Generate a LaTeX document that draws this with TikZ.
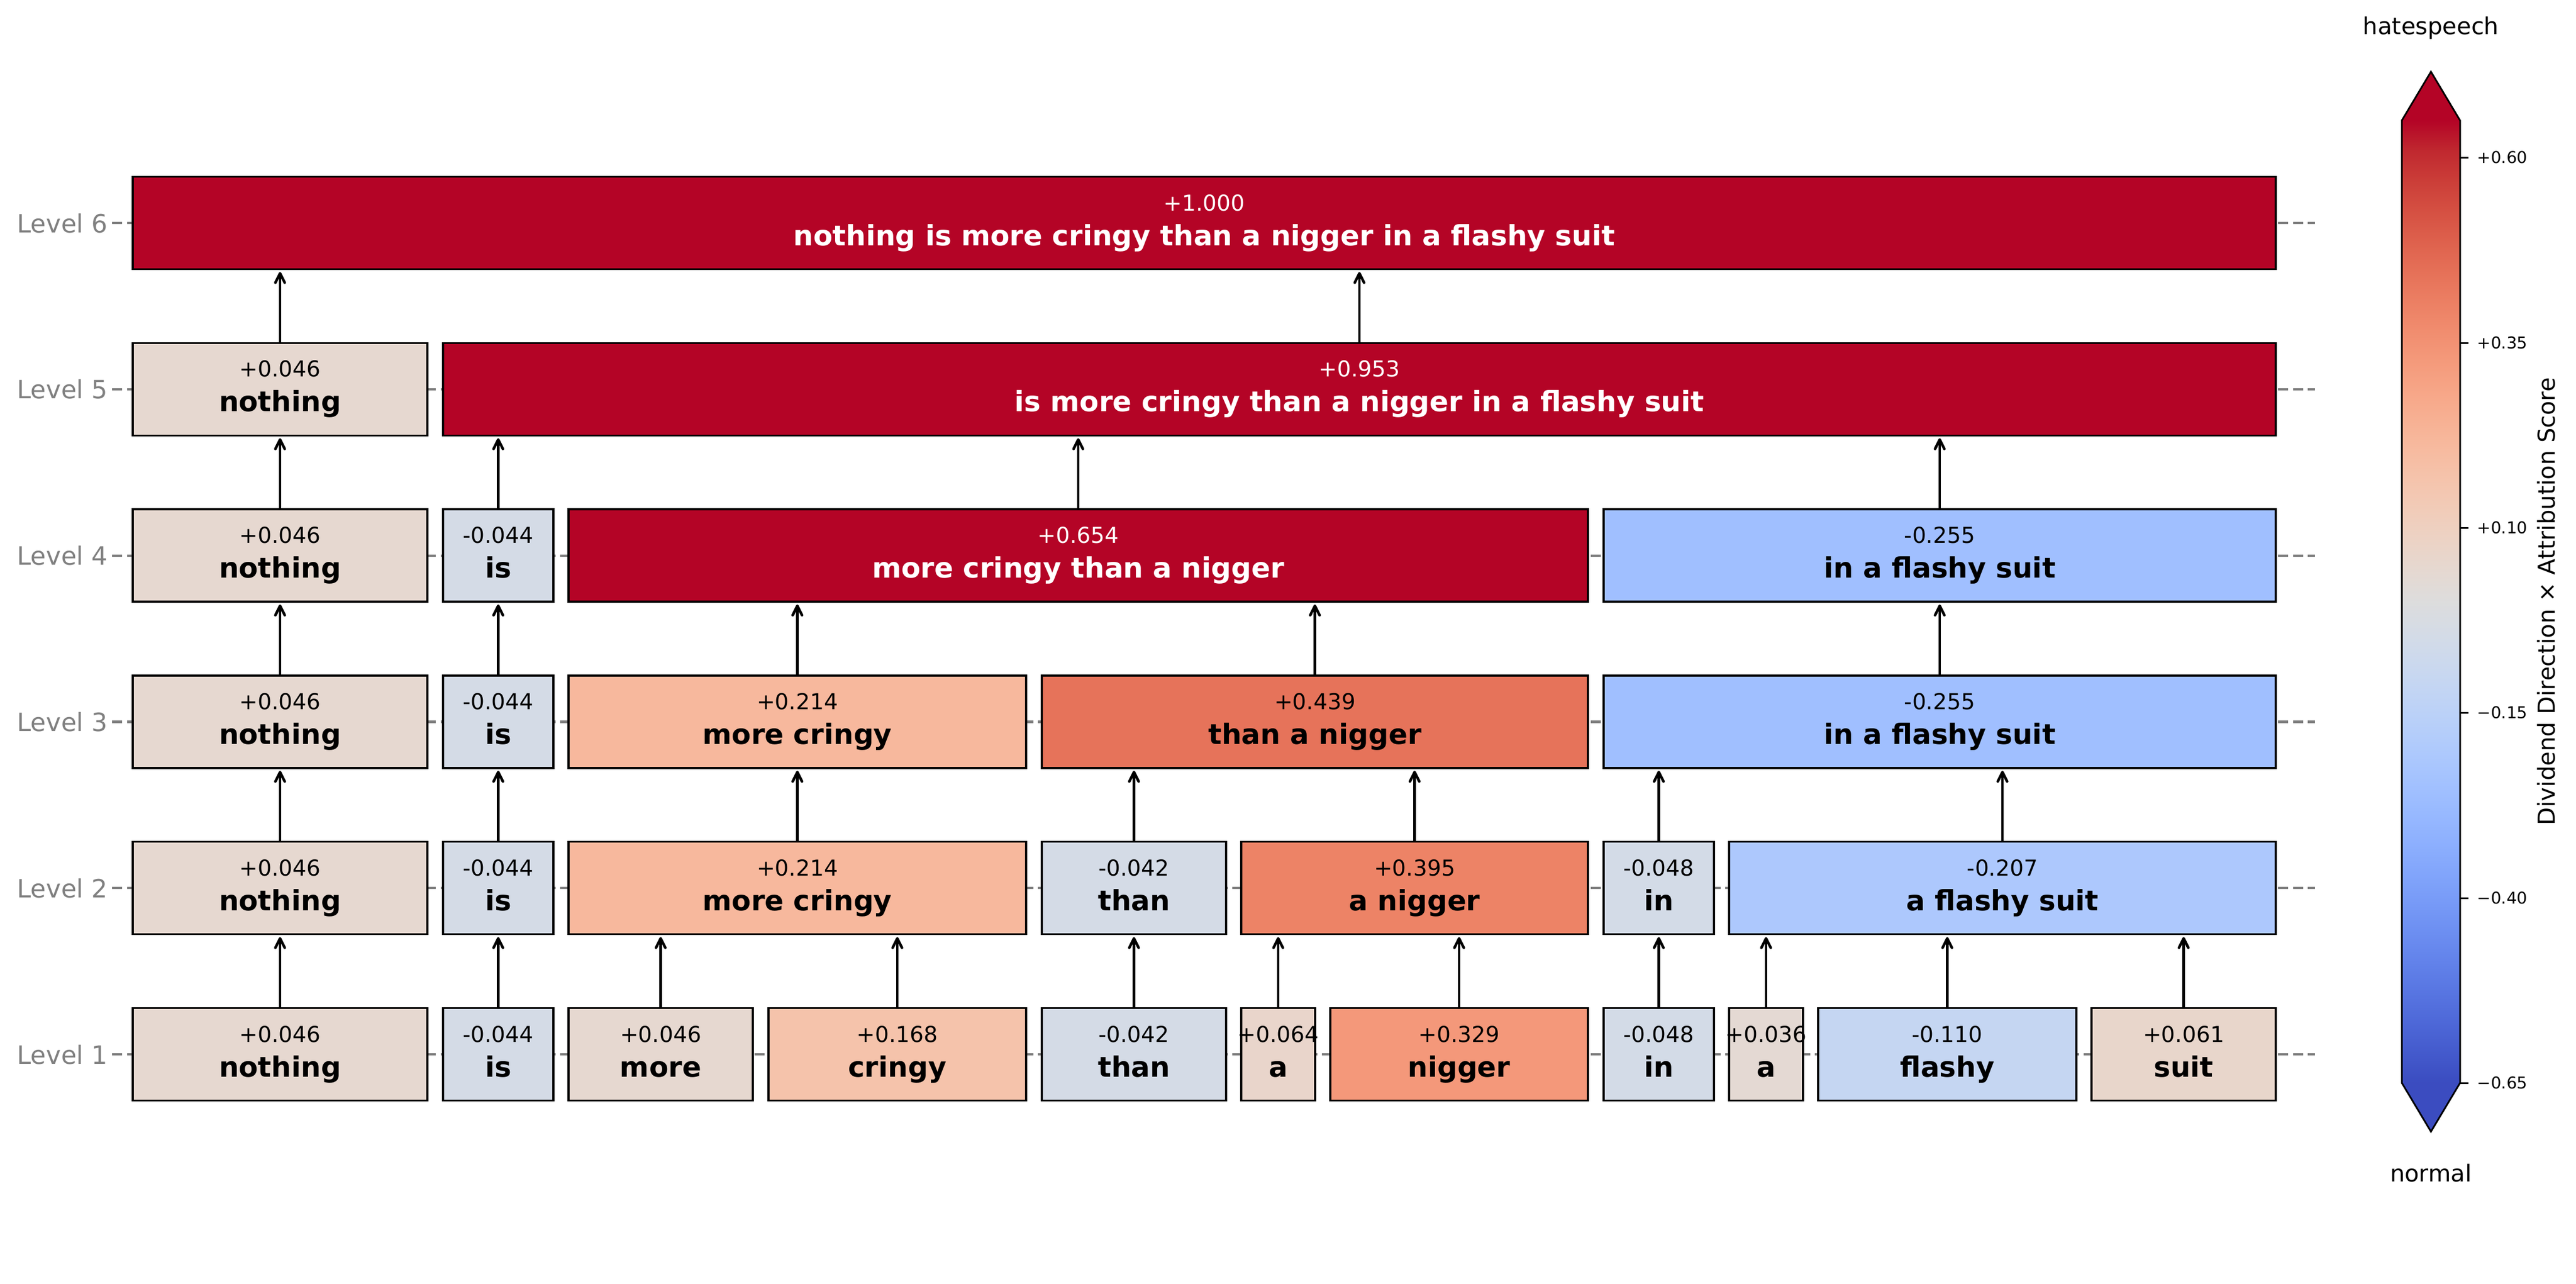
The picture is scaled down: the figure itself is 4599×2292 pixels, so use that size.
\documentclass[tikz,border=0pt]{standalone}
\usepackage{fontspec}
\setmainfont{DejaVu Sans}
\usetikzlibrary{arrows.meta}
\definecolor{axgray}{RGB}{128,128,128}
\definecolor{cA}{RGB}{230,216,208}
\definecolor{cB}{RGB}{212,219,230}
\definecolor{cC}{RGB}{245,195,171}
\definecolor{cD}{RGB}{212,219,230}
\definecolor{cE}{RGB}{233,213,203}
\definecolor{cF}{RGB}{244,152,122}
\definecolor{cG}{RGB}{211,219,231}
\definecolor{cH}{RGB}{228,217,211}
\definecolor{cI}{RGB}{197,214,242}
\definecolor{cJ}{RGB}{232,214,203}
\definecolor{cK}{RGB}{247,184,157}
\definecolor{cL}{RGB}{237,131,102}
\definecolor{cM}{RGB}{173,200,253}
\definecolor{cN}{RGB}{230,115,90}
\definecolor{cO}{RGB}{160,191,255}
\definecolor{cP}{RGB}{180,4,38}
\definecolor{cwmin}{RGB}{59,76,192}
\pgfdeclareverticalshading{coolwarm}{100bp}{
rgb(0bp)=(0.2298,0.2987,0.7537);
rgb(25bp)=(0.2298,0.2987,0.7537);
rgb(26.5625bp)=(0.2662,0.3531,0.8015);
rgb(28.125bp)=(0.3039,0.4065,0.8450);
rgb(29.6875bp)=(0.3428,0.4588,0.8837);
rgb(31.25bp)=(0.3830,0.5094,0.9174);
rgb(32.8125bp)=(0.4244,0.5581,0.9456);
rgb(34.375bp)=(0.4667,0.6046,0.9682);
rgb(35.9375bp)=(0.5096,0.6483,0.9848);
rgb(37.5bp)=(0.5530,0.6889,0.9954);
rgb(39.0625bp)=(0.5963,0.7261,0.9998);
rgb(40.625bp)=(0.6392,0.7596,0.9982);
rgb(42.1875bp)=(0.6813,0.7890,0.9904);
rgb(43.75bp)=(0.7222,0.8140,0.9766);
rgb(45.3125bp)=(0.7615,0.8343,0.9569);
rgb(46.875bp)=(0.7987,0.8498,0.9317);
rgb(48.4375bp)=(0.8335,0.8602,0.9011);
rgb(50bp)=(0.8654,0.8654,0.8654);
rgb(51.5625bp)=(0.8978,0.8489,0.8209);
rgb(53.125bp)=(0.9241,0.8274,0.7745);
rgb(54.6875bp)=(0.9445,0.8009,0.7267);
rgb(56.25bp)=(0.9589,0.7698,0.6780);
rgb(57.8125bp)=(0.9673,0.7341,0.6288);
rgb(59.375bp)=(0.9700,0.6943,0.5794);
rgb(60.9375bp)=(0.9668,0.6504,0.5303);
rgb(62.5bp)=(0.9580,0.6028,0.4818);
rgb(64.0625bp)=(0.9437,0.5518,0.4342);
rgb(65.625bp)=(0.9239,0.4973,0.3880);
rgb(67.1875bp)=(0.8990,0.4396,0.3432);
rgb(68.75bp)=(0.8692,0.3783,0.3003);
rgb(70.3125bp)=(0.8346,0.3129,0.2593);
rgb(71.875bp)=(0.7956,0.2413,0.2205);
rgb(73.4375bp)=(0.7525,0.1572,0.1841);
rgb(75bp)=(0.7057,0.0156,0.1502);
rgb(100bp)=(0.7057,0.0156,0.1502)}
\tikzset{
  wbox/.style={draw=black, line width=0.84bp, rectangle, inner sep=0pt, outer sep=0pt, minimum height=39.6bp},
  valtext/.style={anchor=base, inner sep=0pt, font=\fontsize{9.4bp}{11bp}\selectfont},
  wordtext/.style={anchor=base, inner sep=0pt, font=\fontsize{12bp}{14bp}\selectfont\bfseries},
  levtext/.style={anchor=base east, inner sep=0pt, text=axgray, font=\fontsize{10.8bp}{13bp}\selectfont},
  arr/.style={-{Straight Barb[length=4bp,width=4bp,round]}, line width=1.13bp, shorten >=1.2bp},
  guide/.style={draw=axgray, line width=1bp, dash pattern=on 4.4bp off 2bp},
  cbtick/.style={anchor=base west, inner sep=0pt, font=\fontsize{7bp}{8bp}\selectfont},
  cbtext/.style={anchor=base, inner sep=0pt, font=\fontsize{10bp}{12bp}\selectfont},
  cbline/.style={draw=black, line width=0.72bp},
}
\newcommand\wbox[8]{%
  \node[wbox, fill=#5, minimum width={(#3-#2)*0.24bp}] (#1) at ({(#2+#3)/2},#4) {};
  \node[valtext, text=#8] (#1v) at ({(#2+#3)/2},{#4-22}) {#6};
  \node[wordtext, text=#8] (#1w) at ({(#2+#3)/2},{#4+40}) {#7};}
\newcommand\uparr[2]{\draw[arr] (#1.north) -- (#1.north |- #2.south);}
\begin{document}
\begin{tikzpicture}[x=0.24bp,y=-0.24bp]
\useasboundingbox (0,0) rectangle (4599,2292);
\def\yA{1882}\def\yB{1585.2}\def\yC{1288.4}\def\yD{991.6}\def\yE{694.8}\def\yF{398}
% guides and level labels
\foreach \y/\n in {\yA/1,\yB/2,\yC/3,\yD/4,\yE/5,\yF/6}{
  \coordinate (gl\n) at (200,\y);
  \coordinate (gr\n) at (4133,\y);
  \draw[guide] (gl\n) -- (gr\n);
  \node[levtext] (lev\n) at (193,{\y+17}) {Level \n};
}
% Level 1
\wbox{na1}{237}{763}{\yA}{cA}{+0.046}{nothing}{black}
\wbox{nb1}{791}{988}{\yA}{cB}{-0.044}{is}{black}
\wbox{nc1}{1015}{1344}{\yA}{cA}{+0.046}{more}{black}
\wbox{nd1}{1372}{1832}{\yA}{cC}{+0.168}{cringy}{black}
\wbox{ne1}{1860}{2189}{\yA}{cD}{-0.042}{than}{black}
\wbox{nf1}{2216}{2348}{\yA}{cE}{+0.064}{a}{black}
\wbox{ng1}{2375}{2835}{\yA}{cF}{+0.329}{nigger}{black}
\wbox{nh1}{2863}{3060}{\yA}{cG}{-0.048}{in}{black}
\wbox{ni1}{3087}{3219}{\yA}{cH}{+0.036}{a}{black}
\wbox{nj1}{3246}{3707}{\yA}{cI}{-0.110}{flashy}{black}
\wbox{nk1}{3734}{4063}{\yA}{cJ}{+0.061}{suit}{black}
% Level 2
\wbox{na2}{237}{763}{\yB}{cA}{+0.046}{nothing}{black}
\wbox{nb2}{791}{988}{\yB}{cB}{-0.044}{is}{black}
\wbox{nc2}{1015}{1832}{\yB}{cK}{+0.214}{more cringy}{black}
\wbox{nd2}{1860}{2189}{\yB}{cD}{-0.042}{than}{black}
\wbox{ne2}{2216}{2835}{\yB}{cL}{+0.395}{a nigger}{black}
\wbox{nf2}{2863}{3060}{\yB}{cG}{-0.048}{in}{black}
\wbox{ng2}{3087}{4063}{\yB}{cM}{-0.207}{a flashy suit}{black}
% Level 3
\wbox{na3}{237}{763}{\yC}{cA}{+0.046}{nothing}{black}
\wbox{nb3}{791}{988}{\yC}{cB}{-0.044}{is}{black}
\wbox{nc3}{1015}{1832}{\yC}{cK}{+0.214}{more cringy}{black}
\wbox{nd3}{1860}{2835}{\yC}{cN}{+0.439}{than a nigger}{black}
\wbox{ne3}{2863}{4063}{\yC}{cO}{-0.255}{in a flashy suit}{black}
% Level 4
\wbox{na4}{237}{763}{\yD}{cA}{+0.046}{nothing}{black}
\wbox{nb4}{791}{988}{\yD}{cB}{-0.044}{is}{black}
\wbox{nc4}{1015}{2835}{\yD}{cP}{+0.654}{more cringy than a nigger}{white}
\wbox{nd4}{2863}{4063}{\yD}{cO}{-0.255}{in a flashy suit}{black}
% Level 5
\wbox{na5}{237}{763}{\yE}{cA}{+0.046}{nothing}{black}
\wbox{nb5}{791}{4063}{\yE}{cP}{+0.953}{is more cringy than a nigger in a flashy suit}{white}
% Level 6
\wbox{na6}{237}{4063}{\yF}{cP}{+1.000}{nothing is more cringy than a nigger in a flashy suit}{white}
% arrows 1->2
\uparr{na1}{na2}\uparr{nb1}{nb2}\uparr{nc1}{nc2}\uparr{nd1}{nc2}
\uparr{ne1}{nd2}\uparr{nf1}{ne2}\uparr{ng1}{ne2}\uparr{nh1}{nf2}
\uparr{ni1}{ng2}\uparr{nj1}{ng2}\uparr{nk1}{ng2}
% arrows 2->3
\uparr{na2}{na3}\uparr{nb2}{nb3}\uparr{nc2}{nc3}\uparr{nd2}{nd3}
\uparr{ne2}{nd3}\uparr{nf2}{ne3}\uparr{ng2}{ne3}
% arrows 3->4
\uparr{na3}{na4}\uparr{nb3}{nb4}\uparr{nc3}{nc4}\uparr{nd3}{nc4}\uparr{ne3}{nd4}
% arrows 4->5
\uparr{na4}{na5}\uparr{nb4}{nb5}\uparr{nc4}{nb5}\uparr{nd4}{nb5}
% arrows 5->6
\uparr{na5}{na6}\uparr{nb5}{na6}
% colorbar
\shade[shading=coolwarm] (4288,215) rectangle (4392,1933);
\fill[cP] (4288,216) -- (4340,128) -- (4392,216) -- cycle;
\fill[cwmin] (4288,1932) -- (4340,2020) -- (4392,1932) -- cycle;
\draw[cbline, line join=miter] (4288,215) -- (4340,128) -- (4392,215) -- (4392,1933) -- (4340,2020) -- (4288,1933) -- cycle;
\foreach \yy/\lab/\n in {281/+0.60/1,612/+0.35/2,942/+0.10/3,1272/−0.15/4,1603/−0.40/5,1933/−0.65/6}{
  \draw[cbline] (4392,\yy) -- (4407,\yy);
  \node[cbtick] (cbt\n) at (4422,{\yy+10.6}) {\lab};
}
\node[cbtext] (cbtop) at (4340,61) {hatespeech};
\node[cbtext] (cbbot) at (4340,2109) {normal};
\node[cbtext, rotate=90] (cblab) at (4561,1074) {Dividend Direction × Attribution Score};
\end{tikzpicture}
\end{document}
